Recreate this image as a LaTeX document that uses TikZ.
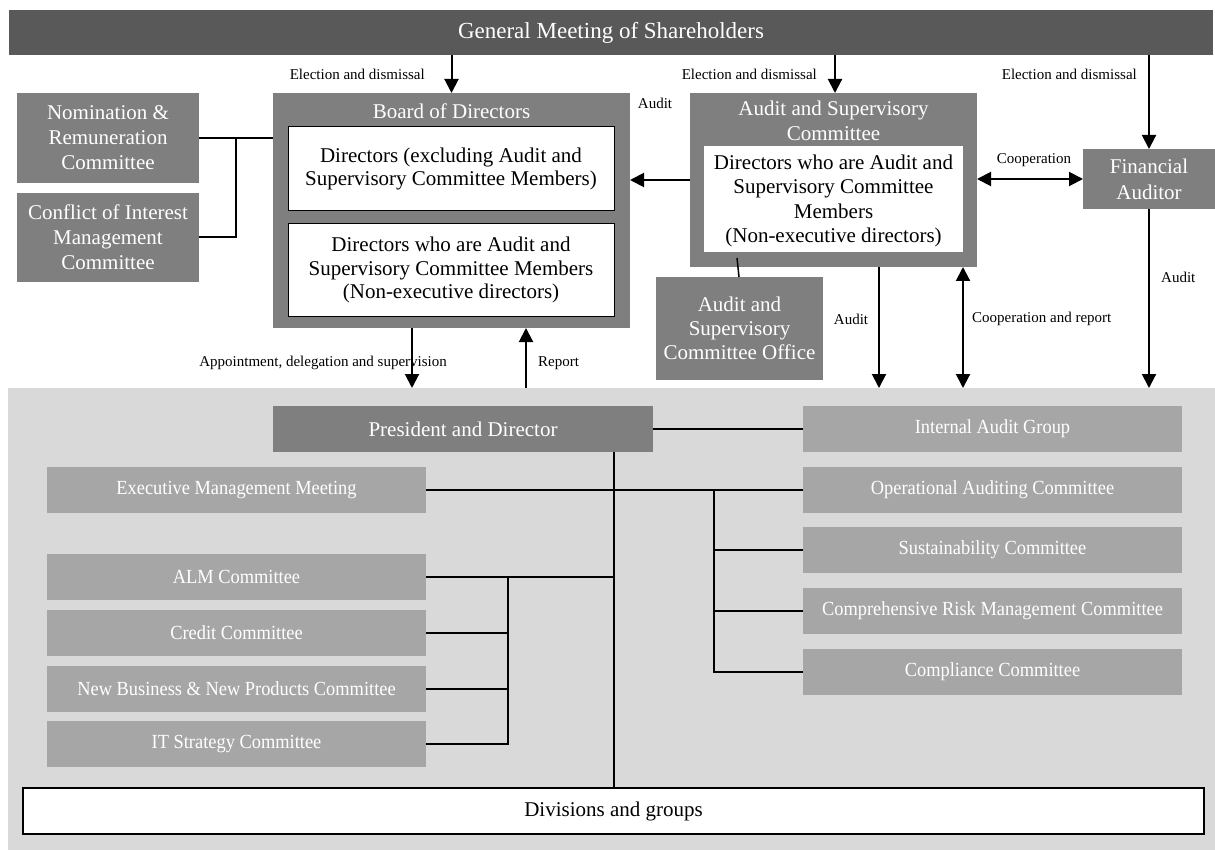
\documentclass[tikz,border=0pt]{standalone}
\usepackage{fontspec}
\setmainfont{Liberation Serif}
\newfontfamily\condfont{Liberation Serif}[FakeStretch=0.92]
\usetikzlibrary{arrows.meta}
\definecolor{cdark}{HTML}{595959}
\definecolor{cmid}{HTML}{7F7F7F}
\definecolor{clight}{HTML}{A6A6A6}
\definecolor{cbg}{HTML}{D9D9D9}
\begin{document}
\begin{tikzpicture}[x=1pt,y=-1pt,
  bx/.style 2 args={minimum width=#1,minimum height=#2,inner sep=0pt,align=center,outer sep=0pt},
  midbox/.style={fill=cmid,text=white,font=\fontsize{21}{25}\selectfont},
  whitebox/.style={fill=white,text=black,font=\fontsize{21}{23.5}\selectfont},
  lowbox/.style={bx={379}{46},fill=clight,text=white,font=\condfont\fontsize{20}{24}\selectfont},
  lbl/.style={inner sep=0pt,font=\fontsize{15}{18}\selectfont},
  arr/.style={-{Triangle[length=14pt,width=14pt]},line width=2pt},
  darr/.style={{Triangle[length=14pt,width=14pt]}-{Triangle[length=14pt,width=14pt]},line width=2pt},
  conn/.style={line width=2pt}]
\useasboundingbox (0,0) rectangle (1215,850);
\fill[white] (0,0) rectangle (1215,850);

% top bar
\node[bx={1204}{45},fill=cdark,text=white,font=\fontsize{23}{26}\selectfont] (gm) at (611,32.5) {General Meeting of Shareholders};

% left committees
\node[bx={182}{90},midbox] (nom) at (108,138) {Nomination \&\\Remuneration\\Committee};
\node[bx={182}{89},midbox] (coi) at (108,237.5) {Conflict of Interest\\Management\\Committee};

% board
\node[bx={357}{235},fill=cmid] (board) at (451.5,210.5) {};
\node[inner sep=0pt,text=white,font=\fontsize{21}{24}\selectfont] (boardt) at (451.5,111) {Board of Directors};
\node[bx={326}{84},whitebox,draw=black,line width=1pt] (bw1) at (451,169) {Directors (excluding Audit and\\Supervisory Committee Members)};
\node[bx={326}{92},whitebox,draw=black,line width=1pt] (bw2) at (451,270) {Directors who are Audit and\\Supervisory Committee Members\\(Non-executive directors)};

% audit and supervisory committee
\node[bx={287}{174},fill=cmid] (asc) at (833.5,180) {};
\node[bx={259}{106},fill=white] (ascw) at (833.5,199) {};
\node[inner sep=0pt,align=center,font=\fontsize{21}{24.5}\selectfont] (ascwt) at (833.5,201) {Directors who are Audit and\\Supervisory Committee\\Members\\(Non-executive directors)};
\node[inner sep=0pt,align=center,text=white,font=\fontsize{21}{24.5}\selectfont] (asct) at (833.5,121) {Audit and Supervisory\\Committee};

% financial auditor
\node[bx={132}{60},midbox,font=\fontsize{21}{26}\selectfont] (fa) at (1149,179) {Financial\\Auditor};

% office
\node[bx={167}{103},midbox,font=\fontsize{21}{24}\selectfont] (office) at (739.5,328.5) {Audit and\\Supervisory\\Committee Office};

% lower background
\node[bx={1207}{462},fill=cbg] (bg) at (611.5,619) {};

% president
\node[bx={380}{46},fill=cmid,text=white,font=\fontsize{21}{24}\selectfont] (pres) at (463,429) {President and Director};

% right column
\node[lowbox] (iag) at (992.5,429) {Internal Audit Group};
\node[lowbox] (oac) at (992.5,490) {Operational Auditing Committee};
\node[lowbox] (sust) at (992.5,550) {Sustainability Committee};
\node[lowbox] (crm) at (992.5,610.5) {Comprehensive Risk Management Committee};
\node[lowbox] (comp) at (992.5,672) {Compliance Committee};

% left column
\node[lowbox] (exec) at (236.5,490) {Executive Management Meeting};
\node[lowbox] (alm) at (236.5,577) {ALM Committee};
\node[lowbox] (credit) at (236.5,633) {Credit Committee};
\node[lowbox] (nb) at (236.5,689) {New Business \& New Products Committee};
\node[lowbox] (it) at (236.5,744) {IT Strategy Committee};

% divisions
\node[bx={1181}{46},fill=white,draw=black,line width=1.5pt,font=\fontsize{21}{24}\selectfont] (div) at (613.5,811) {Divisions and groups};

% ---- upper connectors
\coordinate (jn) at (236,138);
\draw[conn] (nom.east) -- (nom.east -| board.west);
\draw[conn] (coi.east) -| (jn);

\draw[arr] (board.north |- gm.south) -- (board.north);
\draw[arr] ([xshift=1.5pt]asc.north |- gm.south) -- ([xshift=1.5pt]asc.north);
\draw[arr] (fa.north |- gm.south) -- (fa.north);

\draw[arr] (asc.west) -- (asc.west -| board.east);
\draw[darr] (asc.east |- fa.west) -- (fa.west);

\draw[conn,line width=1.5pt] ([xshift=-96.5pt,yshift=9pt]asc.south) -- ([xshift=-0.5pt]office.north);

\draw[arr] ([xshift=45.5pt]asc.south) -- ([xshift=45.5pt]asc.south |- bg.north);
\draw[darr] ([xshift=129.5pt]asc.south) -- ([xshift=129.5pt]asc.south |- bg.north);
\draw[arr] (fa.south) -- (fa.south |- bg.north);

\draw[arr] ([xshift=-39.5pt]board.south) -- ([xshift=-39.5pt]board.south |- bg.north);
\draw[arr] ([xshift=74.5pt]board.south |- bg.north) -- ([xshift=74.5pt]board.south);

% labels
\node[lbl,anchor=east] (l1) at (425,74) {Election and dismissal};
\node[lbl,anchor=east] (l2) at (817,74) {Election and dismissal};
\node[lbl,anchor=east] (l3) at (1137,74) {Election and dismissal};
\node[lbl] (l4) at (655,103) {Audit};
\node[lbl] (l5) at (1034,160) {Cooperation};
\node[lbl,anchor=west] (l6) at (1161,277) {Audit};
\node[lbl] (l7) at (851,319) {Audit};
\node[lbl,anchor=west] (l8) at (972,319) {Cooperation and report};
\node[lbl,anchor=east] (l9) at (447,363) {Appointment, delegation and supervision};
\node[lbl,anchor=west] (l10) at (538,363) {Report};

% ---- lower connectors
\draw[conn] (pres.east) -- (iag.west);
\draw[conn] (div.north |- pres.south) -- (div.north);
\draw[conn] (exec.east) -- (oac.west);
\coordinate (rb) at (714,490);
\draw[conn] (rb) |- (comp.west);
\draw[conn] (rb |- sust.west) -- (sust.west);
\draw[conn] (rb |- crm.west) -- (crm.west);
\draw[conn] (alm.east) -- (alm.east -| div.north);
\coordinate (lb) at (508,577);
\draw[conn] (lb) |- (it.east);
\draw[conn] (credit.east) -- (credit.east -| lb);
\draw[conn] (nb.east) -- (nb.east -| lb);
\end{tikzpicture}
\end{document}
